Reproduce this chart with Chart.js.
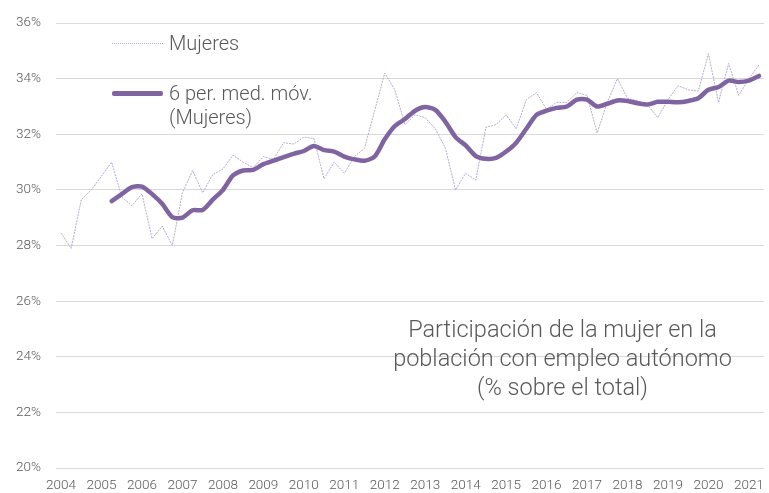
<!DOCTYPE html>
<html>
<head>
<meta charset="utf-8">
<script src="https://cdn.jsdelivr.net/npm/chart.js"></script>
<style>
  body { margin: 0; background: #fff; }
  #wrap { position: relative; width: 769px; height: 493px; font-family: Roboto, 'Liberation Sans', sans-serif; font-weight: 300; color: #595959; }
  #wrap canvas { position: absolute; left: 0; top: 0; }
  .legendRow { position: absolute; left: 112px; font-size: 20px; line-height: 24px; }
  .sample { position: absolute; width: 51px; }
  .txt { position: absolute; left: 57px; white-space: nowrap; }
  #note { position: absolute; left: 320px; top: 315px; width: 485px; text-align: center; font-size: 23.5px; line-height: 29px; }
</style>
</head>
<body>
<div id="wrap">
  <canvas id="chart" width="769" height="493"></canvas>
  <div class="legendRow" style="top:31px">
    <div class="sample" style="top:12px; border-top:1px dotted #b5a9d1;"></div>
    <div class="txt" style="top:0">Mujeres</div>
  </div>
  <div class="legendRow" style="top:81px">
    <div class="sample" style="top:10px; height:5px; background:#8064a2; border-radius:2px;"></div>
    <div class="txt" style="top:0">6 per. med. móv.<br>(Mujeres)</div>
  </div>
  <div id="note">Participación de la mujer en la<br>población con empleo autónomo<br>(% sobre el total)</div>
</div>
<script>
// Quarters 2004 T1 .. 2021 T2
const years = ['2004','2005','2006','2007','2008','2009','2010','2011','2012',
               '2013','2014','2015','2016','2017','2018','2019','2020','2021'];
const quarters = [];
years.forEach(y => { for (let q = 1; q <= 4; q++) quarters.push(y + ' T' + q); });
quarters.length = 70;

// Mujeres, % del total de autónomos
const mujeres = [
  28.45, 27.9, 29.65, 30.0, 30.5, 31.0, 29.75, 29.43, 29.86, 28.25,
  28.7, 28.0, 29.9, 30.7, 29.9, 30.55, 30.75, 31.25, 31.0, 30.8,
  31.2, 31.1, 31.7, 31.65, 31.9, 31.85, 30.4, 31.0, 30.6, 31.2,
  31.5, 32.85, 34.2, 33.6, 32.35, 32.7, 32.6, 32.2, 31.5, 30.0,
  30.6, 30.35, 32.25, 32.35, 32.7, 32.2, 33.25, 33.5, 32.9, 33.15,
  33.15, 33.5, 33.4, 32.05, 33.15, 34.0, 33.3, 33.2, 33.05, 32.6,
  33.25, 33.75, 33.6, 33.55, 34.9, 33.15, 34.55, 33.4, 34.0, 34.5
];

// 6 per. med. móv. (Mujeres)
const mediaMovil = [
  null, null, null, null, null, 29.6, 29.85, 30.1, 30.12, 29.85,
  29.5, 29.02, 29.0, 29.27, 29.28, 29.65, 30.0, 30.52, 30.7, 30.72,
  30.93, 31.05, 31.18, 31.3, 31.4, 31.58, 31.43, 31.38, 31.2, 31.1,
  31.05, 31.2, 31.82, 32.3, 32.55, 32.85, 32.98, 32.88, 32.45, 31.9,
  31.6, 31.22, 31.12, 31.15, 31.38, 31.7, 32.2, 32.7, 32.85, 32.95,
  33.0, 33.25, 33.25, 33.0, 33.1, 33.22, 33.2, 33.12, 33.07, 33.17,
  33.17, 33.15, 33.2, 33.3, 33.6, 33.7, 33.93, 33.88, 33.93, 34.1
];

const yTicks = [20, 22, 24, 26, 28, 30, 32, 34, 36];

const tickFont = { family: "Roboto, 'Liberation Sans', sans-serif", size: 13.5, weight: '300' };

new Chart(document.getElementById('chart'), {
  type: 'line',
  data: {
    labels: quarters,
    datasets: [
      {
        label: 'Mujeres',
        data: mujeres,
        borderColor: '#b5a9d1',
        borderWidth: 1,
        borderDash: [2, 1],
        pointRadius: 0,
        tension: 0,
        order: 2
      },
      {
        label: '6 per. med. móv. (Mujeres)',
        data: mediaMovil,
        borderColor: '#8064a2',
        borderWidth: 4.5,
        pointRadius: 0,
        tension: 0.25,
        borderCapStyle: 'round',
        borderJoinStyle: 'round',
        order: 1
      }
    ]
  },
  options: {
    responsive: false,
    devicePixelRatio: 1,
    animation: false,
    layout: { padding: { top: 16, right: 1, left: 0, bottom: 0 } },
    plugins: { legend: { display: false }, tooltip: { enabled: false } },
    scales: {
      x: {
        offset: true,
        grid: { display: false, drawTicks: false },
        border: { display: false },
        ticks: {
          autoSkip: false,
          maxRotation: 0,
          color: '#595959',
          font: tickFont,
          padding: 10,
          callback: function(value, index) {
            return index % 4 === 0 ? years[index / 4] : '';
          }
        },
        afterFit: function(scale) { scale.height = 25; }
      },
      y: {
        min: yTicks[0],
        max: yTicks[yTicks.length - 1],
        afterBuildTicks: function(scale) {
          scale.ticks = yTicks.map(v => ({ value: v }));
        },
        grid: { color: '#d9d9d9', lineWidth: 1, drawTicks: false },
        border: { display: false },
        ticks: {
          color: '#595959',
          font: tickFont,
          padding: 15,
          callback: function(value) { return value + '%'; }
        },
        afterFit: function(scale) { scale.width = 56; }
      }
    }
  }
});
</script>
</body>
</html>
